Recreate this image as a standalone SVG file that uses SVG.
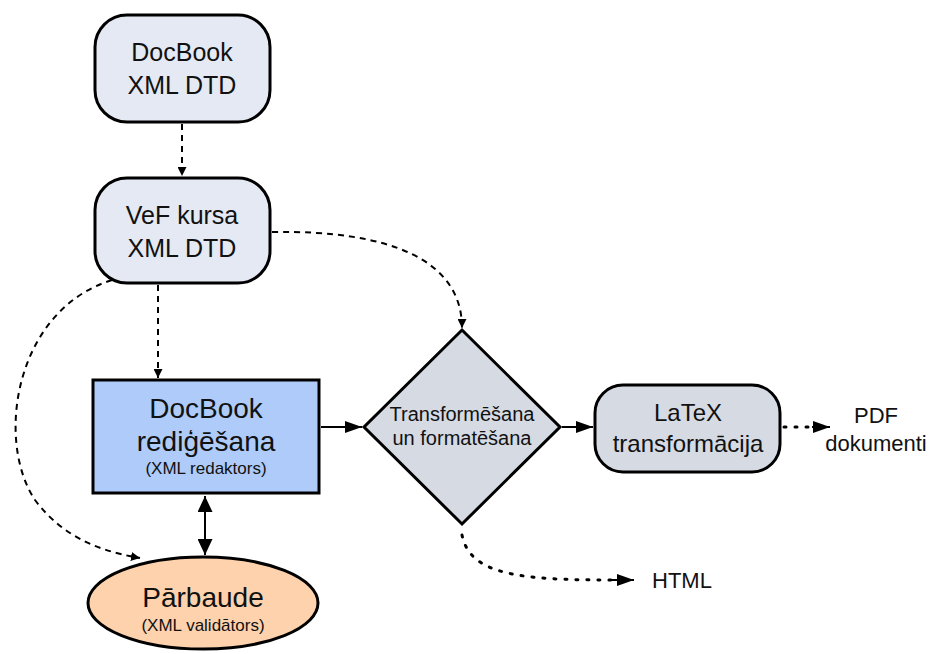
<svg xmlns="http://www.w3.org/2000/svg" width="929" height="654" viewBox="0 0 929 654">
  <style>
    .box { stroke: #000; stroke-width: 3; }
    .dtd { fill: #e5e9f3; }
    .t { font-family: "Liberation Sans", Arial, sans-serif; fill: #111; text-anchor: middle; }
    .edge { fill: none; stroke: #000; stroke-width: 2; }
    .dash { stroke-dasharray: 6 5; }
    .dot { stroke-dasharray: 2 9; stroke-linecap: round; stroke-width: 3; }
  </style>
  <defs>
    <marker id="ah" viewBox="0 0 10 10" refX="10" refY="5" markerWidth="9" markerHeight="9" markerUnits="userSpaceOnUse" orient="auto">
      <path d="M0,0 L10,5 L0,10 z" fill="#000"/>
    </marker>
    <marker id="ahw" viewBox="0 0 10 10" refX="10" refY="5" markerWidth="17" markerHeight="12" markerUnits="userSpaceOnUse" orient="auto" preserveAspectRatio="none">
      <path d="M0,0 L10,5 L0,10 z" fill="#000"/>
    </marker>
    <marker id="ahb" viewBox="0 0 10 10" refX="10" refY="5" markerWidth="16" markerHeight="15" markerUnits="userSpaceOnUse" orient="auto-start-reverse" preserveAspectRatio="none">
      <path d="M0,0 L10,5 L0,10 z" fill="#000"/>
    </marker>
  </defs>

  <g id="connectors">
    <path class="edge dash" d="M182,124 L182,176" marker-end="url(#ah)"/>
    <path class="edge dash" d="M158,285 L158,378" marker-end="url(#ah)"/>
    <path class="edge dash" d="M272,232 C390,230 462,260 462,328" marker-end="url(#ah)"/>
    <path class="edge dash" d="M112,280 C15,310 -5,440 35,500 C65,540 105,552 140,558" marker-end="url(#ah)"/>
    <path class="edge" d="M321,427 L362,427" marker-end="url(#ahw)"/>
    <path class="edge" d="M562,427 L593,427" marker-end="url(#ahw)"/>
    <path class="edge dot" d="M784,427 L810,427"/>
    <path class="edge" d="M812,427 L830,427" marker-end="url(#ahw)"/>
    <path class="edge dot" d="M462,535 C470,575 520,580 612,580"/>
    <path class="edge" d="M612,580 L634,580" marker-end="url(#ahw)"/>
    <path class="edge" d="M205,496 L205,555" stroke-width="4" marker-start="url(#ahb)" marker-end="url(#ahb)"/>
  </g>

  <g id="docbook-dtd">
    <rect class="box dtd" x="95" y="15" width="175" height="107" rx="32"/>
    <text class="t" font-size="25" x="182" y="61">DocBook</text>
    <text class="t" font-size="25" x="182" y="94">XML DTD</text>
  </g>

  <g id="vef-dtd">
    <rect class="box dtd" x="95" y="178" width="175" height="105" rx="32"/>
    <text class="t" font-size="25" x="182" y="224">VeF kursa</text>
    <text class="t" font-size="25" x="182" y="257">XML DTD</text>
  </g>

  <g id="editing">
    <rect class="box" x="93" y="380" width="226" height="113" fill="#aecbfa"/>
    <text class="t" font-size="28" x="206" y="418">DocBook</text>
    <text class="t" font-size="28" x="206" y="451">rediģēšana</text>
    <text class="t" font-size="17" x="206" y="474">(XML redaktors)</text>
  </g>

  <g id="transform">
    <polygon class="box" points="462,330 560,427 462,524 364,427" fill="#d5dae3"/>
    <text class="t" font-size="20" x="462" y="421">Transformēšana</text>
    <text class="t" font-size="20" x="462" y="445">un formatēšana</text>
  </g>

  <g id="latex">
    <rect class="box" x="595" y="385" width="185" height="87" rx="28" fill="#d5dae3"/>
    <text class="t" font-size="24" x="688" y="421">LaTeX</text>
    <text class="t" font-size="24" x="688" y="452">transformācija</text>
  </g>

  <g id="validation">
    <ellipse class="box" cx="203" cy="603" rx="115" ry="46" fill="#fdd2ad"/>
    <text class="t" font-size="28" x="203" y="607">Pārbaude</text>
    <text class="t" font-size="17" x="203" y="631">(XML validātors)</text>
  </g>

  <g id="pdf">
    <text class="t" font-size="22" x="876" y="423">PDF</text>
    <text class="t" font-size="22" x="876" y="451">dokumenti</text>
  </g>

  <g id="html">
    <text class="t" font-size="22" x="682" y="588">HTML</text>
  </g>
</svg>
